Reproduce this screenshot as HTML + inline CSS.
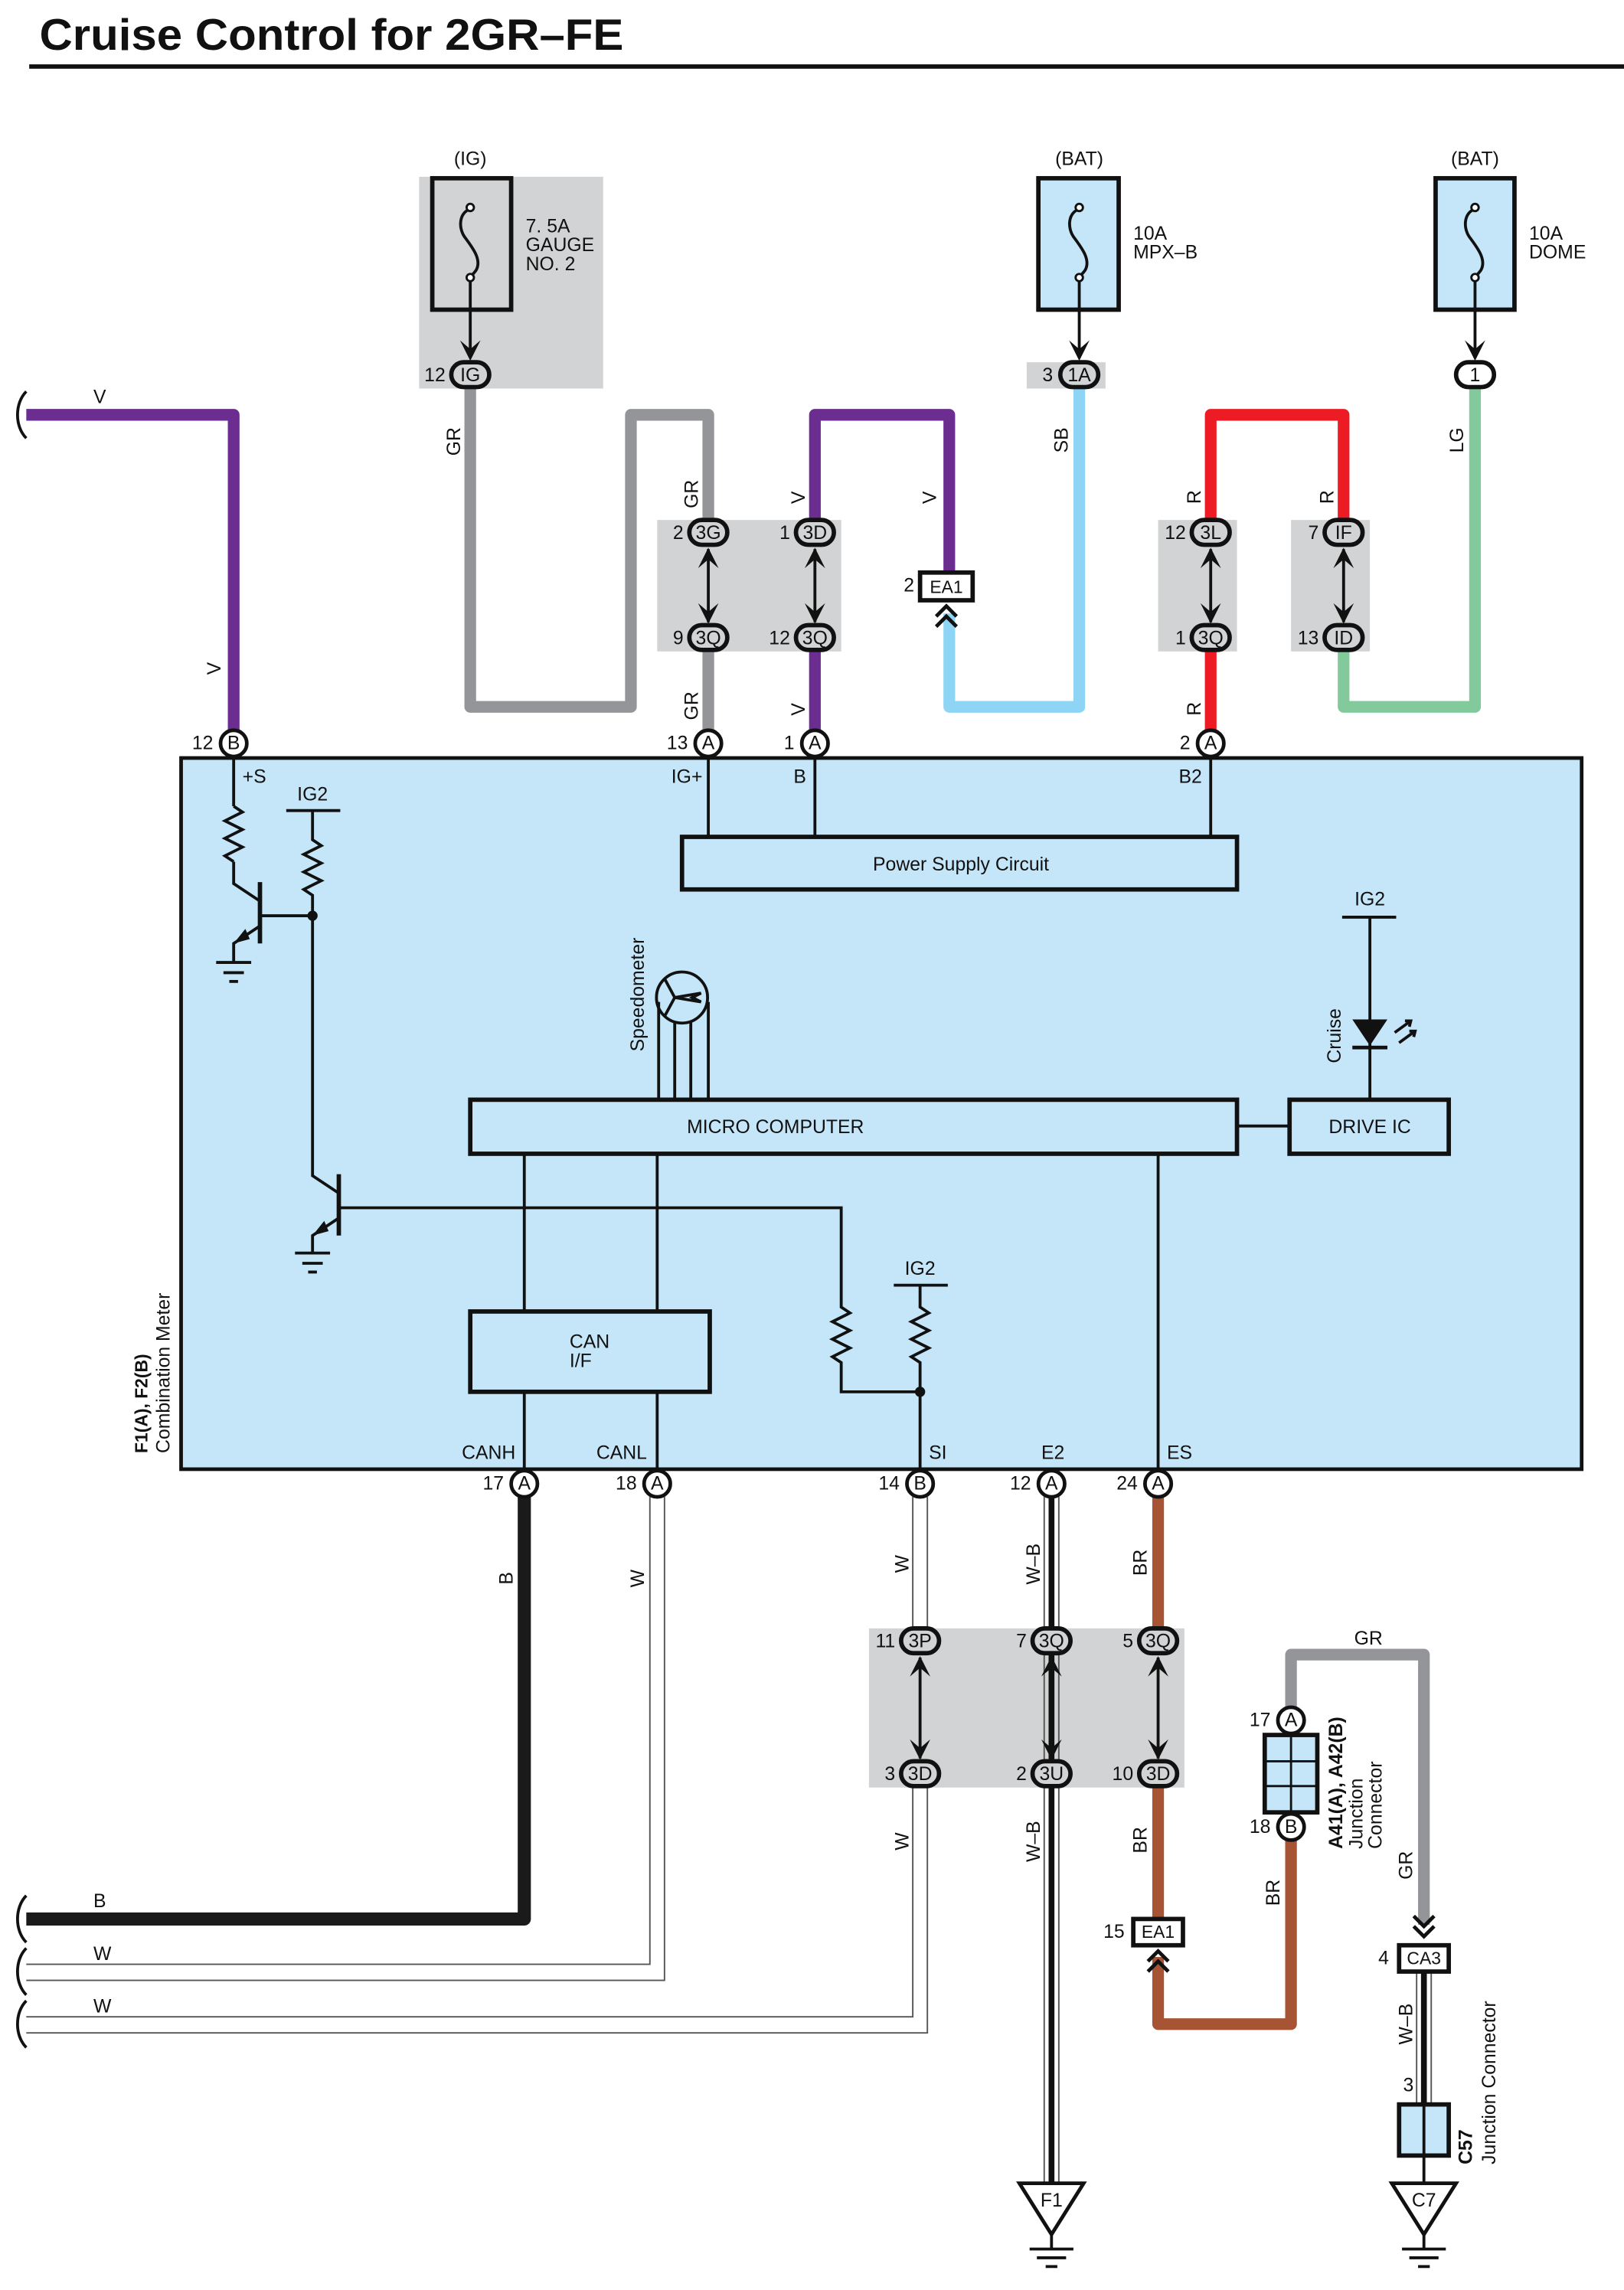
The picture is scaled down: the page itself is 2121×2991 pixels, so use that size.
<!DOCTYPE html>
<html><head><meta charset="utf-8"><style>
html,body{margin:0;padding:0;background:#fff}
svg{display:block}
text{font-family:"Liberation Sans",sans-serif;fill:#111}
</style></head><body>
<svg width="2121" height="2991" viewBox="0 0 1112 1568" xmlns="http://www.w3.org/2000/svg">
<defs>
<g id="dn"><polygon points="0,0 -7,-14 0,-8 7,-14" fill="#111"/></g>
<g id="up"><polygon points="0,0 -7,14 0,8 7,14" fill="#111"/></g>
</defs>
<rect width="1112" height="1568" fill="#fff"/>
<text x="27" y="34" font-size="30" font-weight="bold" textLength="400" lengthAdjust="spacingAndGlyphs">Cruise Control for 2GR–FE</text>
<rect x="20" y="44" width="1092" height="3" fill="#111"/>

<rect x="287" y="121" width="126" height="145" fill="#d1d3d4"/>
<rect x="703" y="248" width="54" height="18" fill="#d1d3d4"/>
<rect x="450" y="356" width="126" height="90" fill="#d1d3d4"/>
<rect x="793" y="356" width="54" height="90" fill="#d1d3d4"/>
<rect x="884" y="356" width="54" height="90" fill="#d1d3d4"/>
<rect x="595" y="1115" width="216" height="109" fill="#d1d3d4"/>

<g fill="none" stroke="#111">
<rect x="296" y="122" width="54" height="90" stroke-width="3" fill="#d1d3d4"/>
<rect x="711" y="122" width="55" height="90" stroke-width="3" fill="#c5e6f8"/>
<rect x="983" y="122" width="54" height="90" stroke-width="3" fill="#c5e6f8"/>
</g>
<g fill="none" stroke="#111" stroke-width="2">
<path d="M322,143 C314,146 314,156 318,162 C324,170 330,178 326,185 C324,188 322,189 322,190"/>
<path d="M739,143 C731,146 731,156 735,162 C741,170 747,178 743,185 C741,188 739,189 739,190"/>
<path d="M1010,143 C1002,146 1002,156 1006,162 C1012,170 1018,178 1014,185 C1012,188 1010,189 1010,190"/>
<line x1="322" y1="190" x2="322" y2="245"/>
<line x1="739" y1="190" x2="739" y2="245"/>
<line x1="1010" y1="190" x2="1010" y2="245"/>
</g>
<g fill="#fff" stroke="#111" stroke-width="1.5">
<circle cx="322" cy="142" r="2.5"/><circle cx="322" cy="190" r="2.5"/>
<circle cx="739" cy="142" r="2.5"/><circle cx="739" cy="190" r="2.5"/>
<circle cx="1010" cy="142" r="2.5"/><circle cx="1010" cy="190" r="2.5"/>
</g>
<use href="#dn" x="322" y="247"/><use href="#dn" x="739" y="247"/><use href="#dn" x="1010" y="247"/>
<g font-size="13">
<text x="322" y="113" text-anchor="middle">(IG)</text>
<text x="739" y="113" text-anchor="middle">(BAT)</text>
<text x="1010" y="113" text-anchor="middle">(BAT)</text>
<text x="360" y="159">7. 5A</text><text x="360" y="172">GAUGE</text><text x="360" y="185">NO. 2</text>
<text x="776" y="164">10A</text><text x="776" y="177">MPX–B</text>
<text x="1047" y="164">10A</text><text x="1047" y="177">DOME</text>
</g>

<rect x="124" y="519" width="959" height="487" fill="#c5e6f8" stroke="#111" stroke-width="2.5"/>

<g fill="none" stroke-width="8" stroke-linejoin="round" stroke-linecap="butt">
<path d="M18,284 H160 V500" stroke="#6b2d8f"/>
<path d="M322,266 V484 H432 V284 H485 V356" stroke="#939598"/>
<path d="M485,446 V500" stroke="#939598"/>
<path d="M558,356 V284 H650 V392" stroke="#6b2d8f"/>
<path d="M558,446 V500" stroke="#6b2d8f"/>
<path d="M650,420 V484 H739 V266" stroke="#8dd4f5"/>
<path d="M829,356 V284 H920 V356" stroke="#ed1c24"/>
<path d="M829,446 V500" stroke="#ed1c24"/>
<path d="M920,446 V484 H1010 V266" stroke="#82c99b"/>
<path d="M359,1025 V1314 H18" stroke="#1a1a1a" stroke-width="9"/>
<path d="M793,1025 V1115" stroke="#a65434"/>
<path d="M793,1224 V1314" stroke="#a65434"/>
<path d="M793,1340 V1386 H884 V1260" stroke="#a65434"/>
<path d="M884,1170 V1133 H975 V1318" stroke="#939598"/>
</g>
<g fill="none" stroke="#555" stroke-width="1">
<path d="M445,1025 V1345 H18"/><path d="M455,1025 V1356 H18"/>
<path d="M625,1025 V1115"/><path d="M635,1025 V1115"/>
<path d="M625,1224 V1381 H18"/><path d="M635,1224 V1392 H18"/>
<path d="M715,1025 V1495"/><path d="M725,1025 V1495"/>
<path d="M970,1350 V1441"/><path d="M980,1350 V1441"/>
</g>
<g stroke="#111" stroke-width="4">
<line x1="720" y1="1025" x2="720" y2="1495"/>
<line x1="975" y1="1350" x2="975" y2="1441"/>
</g>
<g fill="none" stroke="#111" stroke-width="2">
<path d="M18,268 C10,276 10,292 18,300"/>
<path d="M18,1298 C10,1306 10,1322 18,1330"/>
<path d="M18,1334 C10,1342 10,1358 18,1366"/>
<path d="M18,1370 C10,1378 10,1394 18,1402"/>
</g>

<g fill="#d1d3d4" stroke="#111" stroke-width="3">
<rect x="309" y="248" width="26" height="17" rx="8.5"/>
<rect x="726" y="248" width="26" height="17" rx="8.5"/>
<rect x="997" y="248" width="26" height="17" rx="8.5" fill="#fff"/>
<rect x="472" y="356" width="26" height="17" rx="8.5"/>
<rect x="472" y="428" width="26" height="17" rx="8.5"/>
<rect x="545" y="356" width="26" height="17" rx="8.5"/>
<rect x="545" y="428" width="26" height="17" rx="8.5"/>
<rect x="816" y="356" width="26" height="17" rx="8.5"/>
<rect x="816" y="428" width="26" height="17" rx="8.5"/>
<rect x="907" y="356" width="26" height="17" rx="8.5"/>
<rect x="907" y="428" width="26" height="17" rx="8.5"/>
<rect x="617" y="1115" width="26" height="17" rx="8.5"/>
<rect x="617" y="1206" width="26" height="17" rx="8.5"/>
<rect x="707" y="1115" width="26" height="17" rx="8.5"/>
<rect x="707" y="1206" width="26" height="17" rx="8.5"/>
<rect x="780" y="1115" width="26" height="17" rx="8.5"/>
<rect x="780" y="1206" width="26" height="17" rx="8.5"/>
</g>
<g fill="#fff" stroke="#111" stroke-width="2.5">
<circle cx="160" cy="509" r="9"/><circle cx="485" cy="509" r="9"/><circle cx="558" cy="509" r="9"/><circle cx="829" cy="509" r="9"/>
<circle cx="359" cy="1016" r="9"/><circle cx="450" cy="1016" r="9"/><circle cx="630" cy="1016" r="9"/><circle cx="720" cy="1016" r="9"/><circle cx="793" cy="1016" r="9"/>
<circle cx="884" cy="1178" r="9"/><circle cx="884" cy="1251" r="9"/>
</g>
<g font-size="13" text-anchor="middle">
<text x="322" y="261">IG</text><text x="739" y="261">1A</text><text x="1010" y="261">1</text>
<text x="485" y="369">3G</text><text x="485" y="441">3Q</text><text x="558" y="369">3D</text><text x="558" y="441">3Q</text>
<text x="829" y="369">3L</text><text x="829" y="441">3Q</text><text x="920" y="369">IF</text><text x="920" y="441">ID</text>
<text x="630" y="1128">3P</text><text x="630" y="1219">3D</text><text x="720" y="1128">3Q</text><text x="720" y="1219">3U</text><text x="793" y="1128">3Q</text><text x="793" y="1219">3D</text>
<text x="160" y="513">B</text><text x="485" y="513">A</text><text x="558" y="513">A</text><text x="829" y="513">A</text>
<text x="359" y="1020">A</text><text x="450" y="1020">A</text><text x="630" y="1020">B</text><text x="720" y="1020">A</text><text x="793" y="1020">A</text>
<text x="884" y="1182">A</text><text x="884" y="1255">B</text>
</g>
<g font-size="13" text-anchor="end">
<text x="305" y="261">12</text><text x="721" y="261">3</text>
<text x="468" y="369">2</text><text x="468" y="441">9</text><text x="541" y="369">1</text><text x="541" y="441">12</text>
<text x="812" y="369">12</text><text x="812" y="441">1</text><text x="903" y="369">7</text><text x="903" y="441">13</text>
<text x="146" y="513">12</text><text x="471" y="513">13</text><text x="544" y="513">1</text><text x="815" y="513">2</text>
<text x="345" y="1020">17</text><text x="436" y="1020">18</text><text x="616" y="1020">14</text><text x="706" y="1020">12</text><text x="779" y="1020">24</text>
<text x="613" y="1128">11</text><text x="613" y="1219">3</text><text x="703" y="1128">7</text><text x="703" y="1219">2</text><text x="776" y="1128">5</text><text x="776" y="1219">10</text>
<text x="870" y="1182">17</text><text x="870" y="1255">18</text>
<text x="626" y="405">2</text><text x="770" y="1327">15</text><text x="951" y="1345">4</text><text x="968" y="1432">3</text>
</g>
<g stroke="#111" stroke-width="2">
<line x1="485" y1="376" x2="485" y2="426"/><line x1="558" y1="376" x2="558" y2="426"/>
<line x1="829" y1="376" x2="829" y2="426"/><line x1="920" y1="376" x2="920" y2="426"/>
<line x1="630" y1="1135" x2="630" y2="1204"/><line x1="720" y1="1135" x2="720" y2="1204"/><line x1="793" y1="1135" x2="793" y2="1204"/>
</g>
<use href="#up" x="485" y="375"/><use href="#dn" x="485" y="427"/>
<use href="#up" x="558" y="375"/><use href="#dn" x="558" y="427"/>
<use href="#up" x="829" y="375"/><use href="#dn" x="829" y="427"/>
<use href="#up" x="920" y="375"/><use href="#dn" x="920" y="427"/>
<use href="#up" x="630" y="1134"/><use href="#dn" x="630" y="1205"/>
<use href="#up" x="720" y="1134"/><use href="#dn" x="720" y="1205"/>
<use href="#up" x="793" y="1134"/><use href="#dn" x="793" y="1205"/>

<g fill="#fff" stroke="#111" stroke-width="3">
<rect x="630" y="392" width="36" height="19"/>
<rect x="776" y="1314" width="34" height="18"/>
<rect x="958" y="1332" width="34" height="18"/>
</g>
<g fill="none" stroke="#111" stroke-width="2.5">
<path d="M641,422 L648,415 L655,422 M641,429 L648,422 L655,429"/>
<path d="M786,1343 L793,1336 L800,1343 M786,1350 L793,1343 L800,1350"/>
<path d="M968,1312 L975,1319 L982,1312 M968,1319 L975,1326 L982,1319"/>
</g>
<g font-size="12" text-anchor="middle">
<text x="648" y="406">EA1</text><text x="793" y="1327">EA1</text><text x="975" y="1345">CA3</text>
</g>

<rect x="866" y="1188" width="36" height="53" fill="#c5e6f8" stroke="#111" stroke-width="3"/>
<g stroke="#111" stroke-width="1.5"><line x1="884" y1="1188" x2="884" y2="1241"/><line x1="866" y1="1206" x2="902" y2="1206"/><line x1="866" y1="1223" x2="902" y2="1223"/></g>
<rect x="958" y="1441" width="34" height="35" fill="#c5e6f8" stroke="#111" stroke-width="3"/>
<line x1="975" y1="1441" x2="975" y2="1495" stroke="#111" stroke-width="2"/>
<g fill="#fff" stroke="#111" stroke-width="2.5">
<polygon points="698,1495 742,1495 720,1530"/>
<polygon points="953,1495 997,1495 975,1530"/>
</g>
<g stroke="#111" stroke-width="2">
<line x1="720" y1="1530" x2="720" y2="1540"/><line x1="705" y1="1540" x2="735" y2="1540"/><line x1="710" y1="1546" x2="730" y2="1546"/><line x1="716" y1="1552" x2="724" y2="1552"/>
<line x1="975" y1="1530" x2="975" y2="1540"/><line x1="960" y1="1540" x2="990" y2="1540"/><line x1="965" y1="1546" x2="985" y2="1546"/><line x1="971" y1="1552" x2="979" y2="1552"/>
</g>
<g font-size="13" text-anchor="middle"><text x="720" y="1511">F1</text><text x="975" y="1511">C7</text></g>

<g fill="none" stroke="#111" stroke-width="2">
<line x1="485" y1="519" x2="485" y2="573"/><line x1="558" y1="519" x2="558" y2="573"/><line x1="829" y1="519" x2="829" y2="573"/>
<line x1="160" y1="519" x2="160" y2="552"/>
<path d="M160,552 l6,4 l-12,6 l12,6 l-12,6 l12,6 l-12,6 l6,4"/>
<path d="M160,590 V605 L178,617"/>
<line x1="178" y1="604" x2="178" y2="646" stroke-width="3"/>
<path d="M178,634 L160,646 V659"/>
<line x1="148" y1="659" x2="172" y2="659"/><line x1="153" y1="666" x2="167" y2="666"/><line x1="157" y1="672" x2="163" y2="672"/>
<line x1="178" y1="627" x2="214" y2="627"/>
<line x1="196" y1="555" x2="233" y2="555"/>
<path d="M214,555 V575 l6,4 l-12,6 l12,6 l-12,6 l12,6 l-12,6 l6,4 V627 V805 L232,817"/>
<line x1="232" y1="804" x2="232" y2="846" stroke-width="3"/>
<path d="M232,834 L214,846 V858"/>
<line x1="202" y1="858" x2="226" y2="858"/><line x1="207" y1="865" x2="221" y2="865"/><line x1="211" y1="871" x2="217" y2="871"/>
<path d="M232,827 H576 V895 l6,4 l-12,6 l12,6 l-12,6 l12,6 l-12,6 l6,4 V953 H630"/>
<line x1="612" y1="880" x2="649" y2="880"/>
<path d="M630,880 V895 l6,4 l-12,6 l12,6 l-12,6 l12,6 l-12,6 l6,4 V1006"/>
<line x1="359" y1="790" x2="359" y2="898"/><line x1="450" y1="790" x2="450" y2="898"/>
<line x1="359" y1="953" x2="359" y2="1006"/><line x1="450" y1="953" x2="450" y2="1006"/>
<line x1="793" y1="790" x2="793" y2="1006"/>
<line x1="847" y1="771" x2="883" y2="771"/>
<line x1="919" y1="628" x2="956" y2="628"/>
<line x1="938" y1="628" x2="938" y2="753"/>
<circle cx="467" cy="683" r="17.5"/>
<path d="M455,670 L462,683 L455,696 M462,683 L480,680 L474,683 L480,686 L462,683"/>
<line x1="451" y1="686" x2="451" y2="753"/><line x1="462" y1="700" x2="462" y2="753"/><line x1="473" y1="700" x2="473" y2="753"/><line x1="485" y1="686" x2="485" y2="753"/>
<path d="M955,707 L966,699 M962,699 L966,699 L965,703 M958,714 L969,706 M965,706 L969,706 L968,710"/>
</g>
<g fill="#111">
<circle cx="214" cy="627" r="3.5"/><circle cx="630" cy="953" r="3.5"/>
<polygon points="926,698 950,698 938,716"/>
<rect x="926" y="716" width="24" height="2.5"/>
<polygon points="160,646 168,636 171,643"/>
<polygon points="214,846 222,836 225,843"/>
</g>
<g fill="#c5e6f8" stroke="#111" stroke-width="3">
<rect x="467" y="573" width="380" height="36"/>
<rect x="322" y="753" width="525" height="37"/>
<rect x="883" y="753" width="109" height="37"/>
<rect x="322" y="898" width="164" height="55"/>
</g>
<g font-size="13">
<text x="658" y="596" text-anchor="middle">Power Supply Circuit</text>
<text x="531" y="776" text-anchor="middle">MICRO COMPUTER</text>
<text x="938" y="776" text-anchor="middle">DRIVE IC</text>
<text x="390" y="923">CAN</text><text x="390" y="936">I/F</text>
<text x="166" y="536">+S</text><text x="214" y="548" text-anchor="middle">IG2</text>
<text x="938" y="620" text-anchor="middle">IG2</text><text x="630" y="873" text-anchor="middle">IG2</text>
<text x="481" y="536" text-anchor="end">IG+</text><text x="552" y="536" text-anchor="end">B</text><text x="823" y="536" text-anchor="end">B2</text>
<text x="353" y="999" text-anchor="end">CANH</text><text x="443" y="999" text-anchor="end">CANL</text>
<text x="636" y="999">SI</text><text x="713" y="999">E2</text><text x="799" y="999">ES</text>
<text transform="translate(441,720) rotate(-90)">Speedometer</text>
<text transform="translate(918,728) rotate(-90)">Cruise</text>
<text transform="translate(101,995) rotate(-90)" font-weight="bold" font-size="12">F1(A), F2(B)</text>
<text transform="translate(116,995) rotate(-90)">Combination Meter</text>
<text transform="translate(919,1266) rotate(-90)" font-weight="bold">A41(A), A42(B)</text>
<text transform="translate(933,1266) rotate(-90)">Junction</text>
<text transform="translate(946,1266) rotate(-90)">Connector</text>
<text transform="translate(1008,1482) rotate(-90)" font-weight="bold">C57</text>
<text transform="translate(1024,1482) rotate(-90)">Junction Connector</text>
</g>
<g font-size="13">
<text x="64" y="276">V</text><text x="64" y="1306">B</text><text x="64" y="1342">W</text><text x="64" y="1378">W</text>
<text x="937" y="1126" text-anchor="middle">GR</text>
<text transform="translate(151,462) rotate(-90)">V</text>
<text transform="translate(315,312) rotate(-90)">GR</text>
<text transform="translate(478,348) rotate(-90)">GR</text>
<text transform="translate(478,493) rotate(-90)">GR</text>
<text transform="translate(551,345) rotate(-90)">V</text>
<text transform="translate(551,490) rotate(-90)">V</text>
<text transform="translate(641,345) rotate(-90)">V</text>
<text transform="translate(731,310) rotate(-90)">SB</text>
<text transform="translate(822,345) rotate(-90)">R</text>
<text transform="translate(913,345) rotate(-90)">R</text>
<text transform="translate(822,490) rotate(-90)">R</text>
<text transform="translate(1002,310) rotate(-90)">LG</text>
<text transform="translate(351,1085) rotate(-90)">B</text>
<text transform="translate(441,1087) rotate(-90)">W</text>
<text transform="translate(622,1077) rotate(-90)">W</text>
<text transform="translate(712,1085) rotate(-90)">W–B</text>
<text transform="translate(785,1079) rotate(-90)">BR</text>
<text transform="translate(622,1267) rotate(-90)">W</text>
<text transform="translate(712,1275) rotate(-90)">W–B</text>
<text transform="translate(785,1269) rotate(-90)">BR</text>
<text transform="translate(876,1305) rotate(-90)">BR</text>
<text transform="translate(967,1287) rotate(-90)">GR</text>
<text transform="translate(967,1400) rotate(-90)">W–B</text>
</g>
</svg>
</body></html>
